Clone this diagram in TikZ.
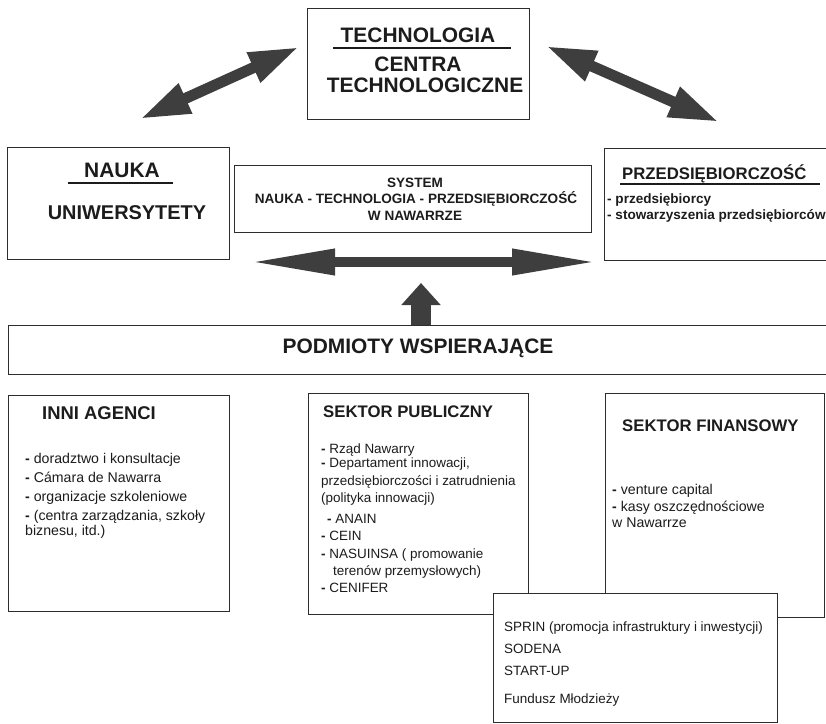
\documentclass[tikz,border=0pt]{standalone}
\usepackage{fontspec}
\setmainfont{Liberation Sans}
\usetikzlibrary{arrows.meta, positioning, calc}
\definecolor{framegray}{RGB}{45,45,45}
\definecolor{arrowgray}{RGB}{62,62,62}
\definecolor{inkgray}{RGB}{28,28,28}

\begin{document}
\begin{tikzpicture}[x=1bp, y=-1bp,
  frame/.style={draw=framegray, line width=1.3bp, fill=white, anchor=north west, inner sep=0pt},
  bighead/.style={font=\bfseries\fontsize{21}{24}\selectfont, text=inkgray, inner sep=0pt, anchor=base},
  midhead/.style={font=\bfseries\fontsize{16.8}{19}\selectfont, text=inkgray, inner sep=0pt, anchor=base west},
  boldtxt/.style={font=\bfseries\fontsize{13.6}{16}\selectfont, text=inkgray, inner sep=0pt, anchor=base},
  plaintxt/.style={font=\fontsize{13.5}{17}\selectfont, text=inkgray, inner sep=0pt, anchor=base west},
  bigtxt/.style={plaintxt, font=\fontsize{14.2}{17}\selectfont},
  uline/.style={draw=inkgray, line width=1.6bp},
  dblarrow/.style={draw=arrowgray, line width=11bp, {Triangle[length=50bp,width=30bp]}-{Triangle[length=50bp,width=30bp]}},
  flatarrow/.style={draw=arrowgray, line width=10bp, {Triangle[length=86bp,width=24bp]}-{Triangle[length=86bp,width=24bp]}},
  uparrow/.style={draw=arrowgray, line width=20bp, -{Triangle[length=22bp,width=38bp]}}
]
  \clip (0,0) rectangle (826,724);

  % arrows between the three spheres
  \coordinate (la) at (140,119);
  \coordinate (lb) at (299,47);
  \coordinate (ra) at (546,46);
  \coordinate (rb) at (719,122);
  \draw[dblarrow] (la) -- (lb);
  \draw[dblarrow] (ra) -- (rb);

  % top row
  \node[frame, minimum width=222bp, minimum height=111bp] (tech) at (307,8) {};
  \node[bighead] (techhead) at (418,43) {TECHNOLOGIA};
  \draw[uline] (333,48) -- (511,48);
  \node[bighead] (techc1) at (418,72) {CENTRA};
  \node[bighead] (techc2) at (425,93) {TECHNOLOGICZNE};

  \node[frame, minimum width=222bp, minimum height=112bp] (nauka) at (7,147) {};
  \node[bighead] (naukahead) at (122,177) {NAUKA};
  \draw[uline] (68,183) -- (173,183);
  \node[bighead, font=\bfseries\fontsize{20}{24}\selectfont] (uniw) at (127,219) {UNIWERSYTETY};

  \node[frame, minimum width=357bp, minimum height=67bp] (system) at (234,165) {};
  \node[boldtxt] (sys1) at (415,187) {SYSTEM};
  \node[boldtxt] (sys2) at (416,203) {NAUKA - TECHNOLOGIA - PRZEDSIĘBIORCZOŚĆ};
  \node[boldtxt] (sys3) at (415,220) {W NAWARRZE};

  \node[frame, minimum width=226bp, minimum height=112bp] (przed) at (604,148) {};
  \node[midhead] (przedhead) at (622,179) {PRZEDSIĘBIORCZOŚĆ};
  \draw[uline] (620,184) -- (820,184);
  \node[boldtxt, anchor=base west] (przed1) at (607,203) {- przedsiębiorcy};
  \node[boldtxt, anchor=base west] (przed2) at (607,219) {- stowarzyszenia przedsiębiorców};

  \coordinate (ha) at (249,262);
  \coordinate (hb) at (598,262);
  \draw[flatarrow] (ha) -- (hb);

  % supporting bodies
  \node[frame, minimum width=830bp, minimum height=49bp] (podm) at (8,325) {};
  \node[bighead] (podmtxt) at (418,353) {PODMIOTY WSPIERAJĄCE};
  \coordinate (upend) at (421,283);
  \draw[uparrow] (podm.north -| upend) -- (upend);

  \node[frame, minimum width=221bp, minimum height=216bp] (inni) at (8,395) {};
  \node[midhead, font=\bfseries\fontsize{18.5}{22}\selectfont] (innihead) at (42,419) {INNI AGENCI};
  \node[bigtxt] (inni1) at (25,463) {\textbf{-} doradztwo i konsultacje};
  \node[bigtxt] (inni2) at (25,482) {\textbf{-} Cámara de Nawarra};
  \node[bigtxt] (inni3) at (25,501) {\textbf{-} organizacje szkoleniowe};
  \node[bigtxt] (inni4) at (25,520) {\textbf{-} (centra zarządzania, szkoły};
  \node[bigtxt] (inni5) at (25,535) {biznesu, itd.)};

  \node[frame, minimum width=220bp, minimum height=221bp] (publ) at (308,393) {};
  \node[midhead] (publhead) at (323,417) {SEKTOR PUBLICZNY};
  \node[plaintxt] (publ1) at (321,453) {\textbf{-} Rząd Nawarry};
  \node[plaintxt] (publ2) at (321,467) {\textbf{-} Departament innowacji,};
  \node[plaintxt] (publ3) at (321,485) {przedsiębiorczości i zatrudnienia};
  \node[plaintxt] (publ4) at (321,502) {(polityka innowacji)};
  \node[plaintxt] (publ5) at (327,523) {\textbf{-} ANAIN};
  \node[plaintxt] (publ6) at (321,540) {\textbf{-} CEIN};
  \node[plaintxt] (publ7) at (321,558) {\textbf{-} NASUINSA ( promowanie};
  \node[plaintxt] (publ8) at (333,575) {terenów przemysłowych)};
  \node[plaintxt] (publ9) at (321,592) {\textbf{-} CENIFER};

  \node[frame, minimum width=219bp, minimum height=224bp] (fin) at (605,393) {};
  \node[midhead] (finhead) at (622,431) {SEKTOR FINANSOWY};
  \node[bigtxt] (fin1) at (612,494) {\textbf{-} venture capital};
  \node[bigtxt] (fin2) at (612,511) {\textbf{-} kasy oszczędnościowe};
  \node[bigtxt] (fin3) at (612,527) {w Nawarrze};

  \node[frame, minimum width=284bp, minimum height=129bp] (sprin) at (493,593) {};
  \node[plaintxt] (sprin1) at (504,631) {SPRIN (promocja infrastruktury i inwestycji)};
  \node[plaintxt] (sprin2) at (504,653) {SODENA};
  \node[plaintxt] (sprin3) at (504,675) {START-UP};
  \node[plaintxt] (sprin4) at (504,703) {Fundusz Młodzieży};
\end{tikzpicture}
\end{document}
